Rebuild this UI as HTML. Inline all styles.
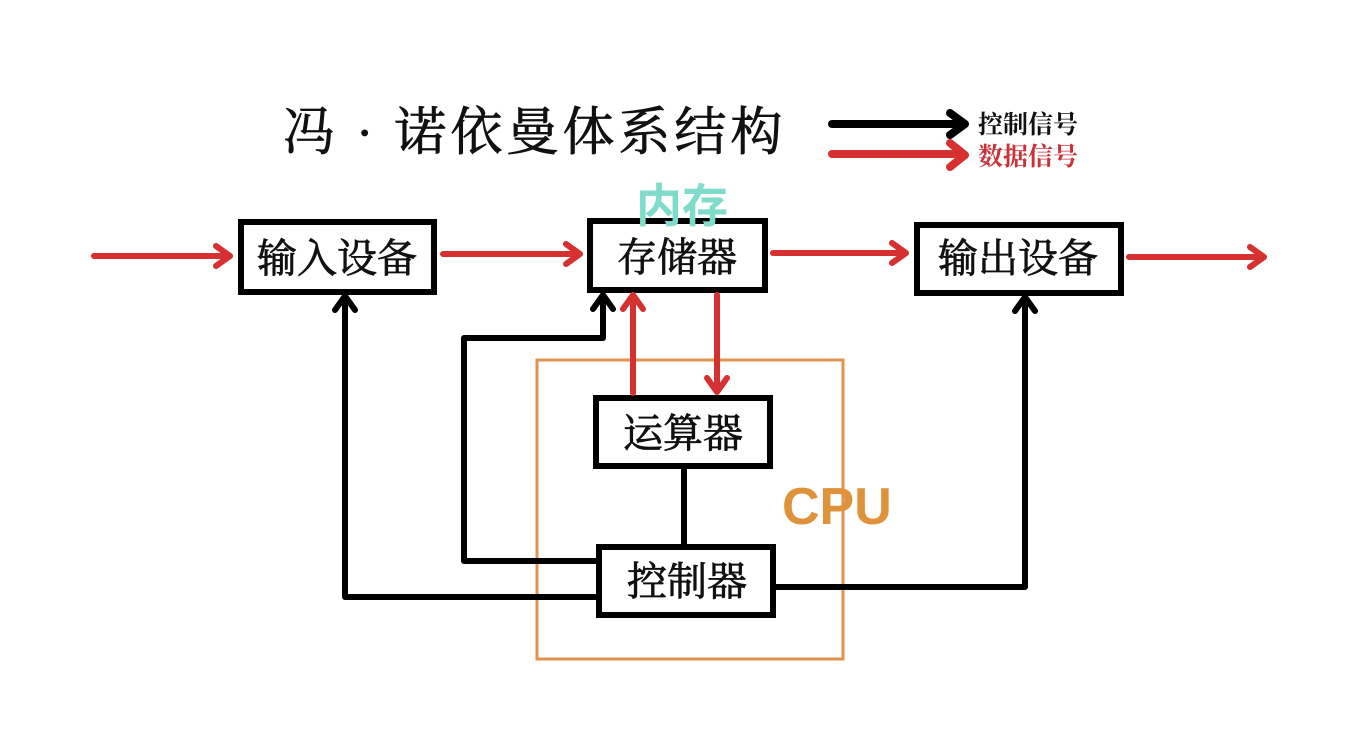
<!DOCTYPE html>
<html><head><meta charset="utf-8"><style>
html,body{margin:0;padding:0;background:#fff;}
svg{display:block}
</style></head><body>
<svg width="1356" height="744" viewBox="0 0 1356 744" xmlns="http://www.w3.org/2000/svg">
<rect width="1356" height="744" fill="#fff"/>
<text x="283" y="150" font-family="Liberation Serif, Noto Serif CJK SC, serif" font-size="52" letter-spacing="4" fill="#111" stroke="#111" stroke-width="0.8">冯 · 诺依曼体系结构</text>
<g fill="none" stroke-linecap="round" stroke-linejoin="round">
<path d="M832 124H962M950 113L965 124L950 135" stroke="#000" stroke-width="8"/>
<path d="M832 154H962M950 143L965 155L950 167" stroke="#d63031" stroke-width="8"/>
</g>
<text x="978" y="133" font-family="Liberation Serif, Noto Serif CJK SC, serif" font-size="25" font-weight="bold" fill="#111">控制信号</text>
<text x="978" y="165" font-family="Liberation Serif, Noto Serif CJK SC, serif" font-size="25" font-weight="bold" fill="#c8333a">数据信号</text>
<rect x="537" y="360" width="306" height="299" fill="none" stroke="#e0924e" stroke-width="3"/>
<g fill="#fff" stroke="#000" stroke-width="6">
<rect x="241" y="222" width="193" height="70"/>
<rect x="590" y="221" width="175" height="69"/>
<rect x="917" y="225" width="204" height="68"/>
<rect x="596" y="398" width="174" height="68"/>
<rect x="599" y="547" width="174" height="68"/>
</g>
<text x="636" y="222" font-family="Noto Sans CJK SC, sans-serif" font-size="46" font-weight="bold" fill="#80dcca">内存</text>
<g font-family="Liberation Serif, Noto Serif CJK SC, serif" font-size="40" fill="#111" stroke="#111" stroke-width="0.8" text-anchor="middle">
<text x="337" y="272">输入设备</text>
<text x="677" y="271">存储器</text>
<text x="1018" y="272">输出设备</text>
<text x="683" y="447">运算器</text>
<text x="687" y="595">控制器</text>
</g>
<g fill="none" stroke="#d63031" stroke-width="6" stroke-linecap="round" stroke-linejoin="round">
<path d="M94 256H228M216 246L230 256L216 266"/>
<path d="M443 254H578M566 244L580 254L566 264"/>
<path d="M773 253H904M892 243L906 253L892 263"/>
<path d="M1129 257H1262M1250 247L1264 257L1250 267"/>
<path d="M633 393V297M623 309L633 295L643 309"/>
<path d="M717 295V390M707 378L717 392L727 378"/>
</g>
<g fill="none" stroke="#000" stroke-width="6" stroke-linecap="round" stroke-linejoin="round">
<path d="M596 597H345V298M335 310L345 296L355 310"/>
<path d="M596 561H464V338H603V297M593 309L603 295L613 309"/>
<path d="M776 587H1025V299M1015 311L1025 297L1035 311"/>
<path d="M684 468V544"/>
</g>
<text x="782" y="524" font-family="Liberation Sans, sans-serif" font-size="52" font-weight="bold" fill="#e0923a">CPU</text>
</svg>
</body></html>
